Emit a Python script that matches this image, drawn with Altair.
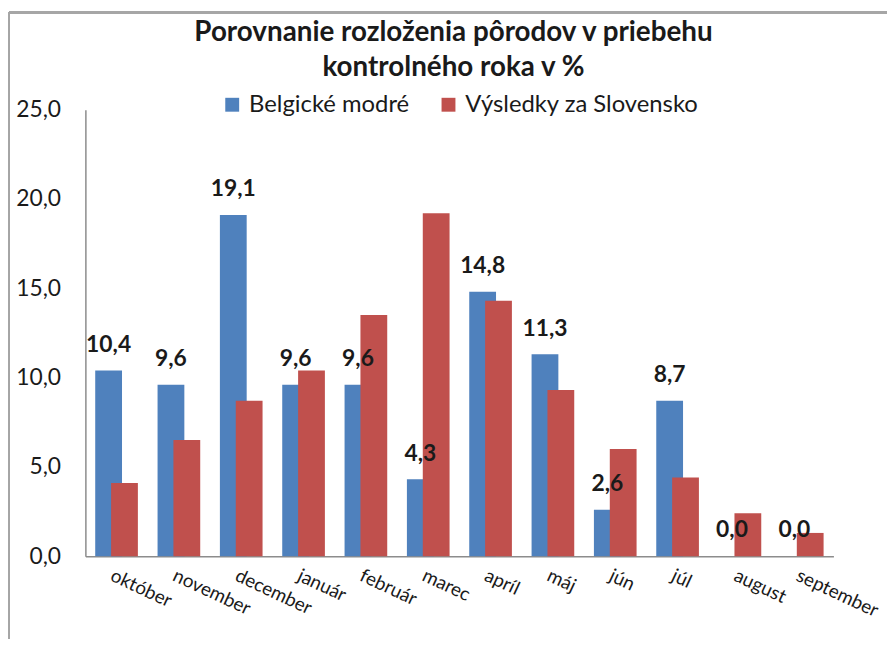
import altair as alt
import pandas as pd

months = ["október", "november", "december", "január", "február", "marec",
          "apríl", "máj", "jún", "júl", "august", "september"]
belgicke = [10.4, 9.6, 19.1, 9.6, 9.6, 4.3, 14.8, 11.3, 2.6, 8.7, 0.0, 0.0]
slovensko = [4.1, 6.5, 8.7, 10.4, 13.5, 19.2, 14.3, 9.3, 6.0, 4.4, 2.4, 1.3]
series = ["Belgické modré", "Výsledky za Slovensko"]
colors = ["#4F81BD", "#C0504D"]
y_ticks = [0, 5, 10, 15, 20, 25]

rows = []
for m, b, s in zip(months, belgicke, slovensko):
    rows.append({"mesiac": m, "rada": series[0], "hodnota": b})
    rows.append({"mesiac": m, "rada": series[1], "hodnota": s})
df = pd.DataFrame(rows)

FONT = "Lato"

x_enc = alt.X("mesiac:N", sort=months, title=None,
              scale=alt.Scale(paddingInner=0, paddingOuter=0),
              axis=alt.Axis(labelAngle=25, labelAlign="left", labelBaseline="top",
                            labelPadding=10, labelOffset=-1, labelFontSize=19,
                            labelFont=FONT, labelColor="#1a1a1a", ticks=False,
                            domainColor="#8c8c8c", domainWidth=1.5))
y_enc = alt.Y("hodnota:Q", title=None,
              scale=alt.Scale(domain=[0, 25], nice=False),
              axis=alt.Axis(values=y_ticks, grid=False, ticks=False,
                            labelExpr="replace(format(datum.value, '.1f'), '.', ',')",
                            labelPadding=25, labelFontSize=23, labelFont=FONT,
                            labelColor="#1a1a1a", domainColor="#8c8c8c",
                            domainWidth=1.5))
color_enc = alt.Color("rada:N",
                      scale=alt.Scale(domain=series, range=colors),
                      legend=alt.Legend(orient="none", legendX=136, legendY=-17,
                                        direction="horizontal", title=None,
                                        symbolType="square", symbolSize=196,
                                        symbolStrokeWidth=0, labelFontSize=24,
                                        labelFont=FONT, labelColor="#1a1a1a",
                                        labelLimit=400,
                                        labelOffset=5, columnPadding=27))

base = alt.Chart(df)

blue = base.transform_filter(alt.datum.rada == series[0]).mark_bar(
    size=27, xOffset=-8).encode(x=x_enc, y=y_enc, color=color_enc)
red = base.transform_filter(alt.datum.rada == series[1]).mark_bar(
    size=27, xOffset=8).encode(x=x_enc, y=y_enc, color=color_enc)
labels = base.transform_filter(alt.datum.rada == series[0]).transform_calculate(
    txt="replace(format(datum.hodnota, '.1f'), '.', ',')"
).mark_text(xOffset=-8, dy=-19, baseline="alphabetic", align="center",
            fontSize=23, fontWeight="bold", font=FONT, color="#1a1a1a").encode(
    x=x_enc, y=y_enc, text="txt:N")

border_top = alt.Chart(df).mark_rule(color="#a6a6a6", strokeWidth=2).encode(
    x=alt.value(-77), x2=alt.value(820), y=alt.value(-98))
border_left = alt.Chart(df).mark_rule(color="#a6a6a6", strokeWidth=2).encode(
    x=alt.value(-77), y=alt.value(-98), y2=alt.value(560))

chart = alt.layer(border_top, border_left, blue, red, labels).properties(
    width=754, height=450,
    autosize=alt.AutoSizeParams(type="none"),
    padding={"left": 78, "top": 100, "right": 54, "bottom": 81},
    title=alt.TitleParams(
        text=["Porovnanie rozloženia pôrodov v priebehu", "kontrolného roka v %"],
        font=FONT, fontSize=28, fontWeight="bold", color="#1a1a1a",
        anchor="middle", baseline="bottom", lineHeight=35, offset=0, dy=99, dx=-6),
).configure_view(stroke=None)

chart.save("out.html", embed_options={"renderer": "svg", "actions": False})
